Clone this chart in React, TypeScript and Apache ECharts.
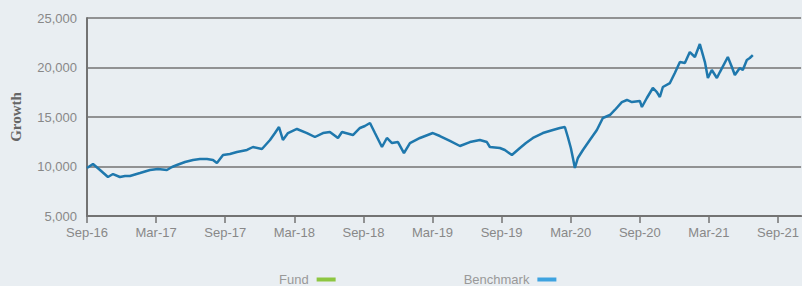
import React, { useEffect, useRef } from "react";
import * as echarts from "echarts";

// Months elapsed since Sep-2016 for each benchmark reading
const months = [
  0.0, 0.52, 1.13, 1.82, 2.26, 2.86, 3.3, 3.73, 4.6, 5.47, 6.16, 6.94, 7.38, 7.81, 8.51, 9.2, 9.81, 10.42,
  10.94, 11.28, 11.81, 12.41, 13.02, 13.89, 14.41, 15.19, 15.89, 16.32, 16.67, 17.01, 17.45, 18.23, 19.1,
  19.79, 20.49, 21.09, 21.79, 22.14, 23.09, 23.7, 24.13, 24.57, 25.0, 25.61, 26.04, 26.48, 27.0, 27.52,
  28.04, 28.91, 30.03, 30.64, 31.51, 32.38, 33.25, 34.11, 34.72, 34.98, 35.85, 36.28, 36.89, 37.59, 38.11,
  38.72, 39.58, 40.45, 41.06, 41.49, 41.75, 42.01, 42.19, 42.36, 42.62, 43.06, 43.66, 44.27, 44.79, 45.4,
  45.83, 46.44, 46.88, 47.31, 48.0, 48.18, 48.61, 49.13, 49.48, 49.74, 50.0, 50.61, 51.04, 51.48, 51.91,
  52.34, 52.78, 53.21, 53.65, 53.91, 54.25, 54.69, 54.95, 55.64, 55.99, 56.25, 56.68, 56.94, 57.29, 57.55,
  57.81,
];

const benchmark = [
  9850, 10250, 9650, 8940, 9240, 8940, 9040, 9040, 9340, 9650, 9750, 9650, 9950, 10150, 10450, 10660, 10760,
  10760, 10660, 10350, 11160, 11260, 11460, 11670, 11970, 11770, 12680, 13380, 13990, 12680, 13380, 13790,
  13380, 12980, 13380, 13480, 12880, 13480, 13180, 13890, 14090, 14390, 13380, 11970, 12880, 12370, 12470,
  11360, 12370, 12880, 13380, 13080, 12580, 12070, 12470, 12680, 12470, 11970, 11870, 11670, 11160, 11870,
  12370, 12880, 13380, 13690, 13890, 13990, 12980, 11870, 10860, 9850, 10860, 11670, 12680, 13690, 14900,
  15200, 15710, 16510, 16720, 16510, 16620, 16010, 16920, 17930, 17520, 17020, 18030, 18430, 19440, 20550,
  20450, 21560, 21060, 22370, 20550, 18940, 19750, 18940, 19540, 21060, 20050, 19240, 19950, 19750, 20760,
  20960, 21260,
];

// Fund line is not visible in the picture (only shown in the legend)
const fund: number[][] = [];

const xTickLabels = [
  "Sep-16", "Mar-17", "Sep-17", "Mar-18", "Sep-18", "Mar-19", "Sep-19", "Mar-20", "Sep-20", "Mar-21", "Sep-21",
];

const seriesNames = ["Fund", "Benchmark"];

export default function App() {
  const ref = useRef<HTMLDivElement>(null);

  useEffect(() => {
    document.body.style.margin = "0";
    const chart = echarts.init(ref.current!, null, { renderer: "svg" });
    const axisColor = "#737373";
    const labelColor = "#888888";
    const font = "Liberation Sans";
    chart.setOption({
      animation: false,
      backgroundColor: "#e9eef2",
      grid: { left: 87, right: 0, top: 18, bottom: 70 },
      legend: {
        top: 273,
        left: 279,
        padding: 0,
        align: "right",
        itemGap: 128,
        itemWidth: 19,
        itemHeight: 4,
        icon: "rect",
        textStyle: { color: "#999999", fontSize: 13, fontFamily: font, padding: [0, 3, 0, 0] },
        data: [
          { name: seriesNames[0], itemStyle: { color: "#8dc641" } },
          { name: seriesNames[1], itemStyle: { color: "#3ea3e0" } },
        ],
      },
      xAxis: {
        type: "value",
        min: 0,
        max: 62,
        interval: 6,
        axisLine: { show: true, lineStyle: { color: axisColor, width: 2 } },
        axisTick: { show: true, length: 7, lineStyle: { color: axisColor, width: 1.5 } },
        splitLine: { show: false },
        axisLabel: {
          color: labelColor,
          fontSize: 13,
          fontFamily: font,
          margin: 10,
          showMaxLabel: false,
          formatter: (v: number) => (v % 6 === 0 ? xTickLabels[v / 6] ?? "" : ""),
        },
      },
      yAxis: {
        type: "value",
        min: 5000,
        max: 25000,
        interval: 5000,
        name: "Growth",
        nameLocation: "middle",
        nameGap: 64,
        nameTextStyle: { color: "#666666", fontSize: 15, fontWeight: "bold", fontFamily: "Liberation Serif" },
        axisLine: { show: true, lineStyle: { color: axisColor, width: 2 } },
        axisTick: { show: false },
        splitLine: { show: true, lineStyle: { color: axisColor, width: 1.5 } },
        axisLabel: {
          color: labelColor,
          fontSize: 13,
          fontFamily: font,
          margin: 10,
          formatter: (v: number) => v.toLocaleString("en-US"),
        },
      },
      series: [
        {
          name: seriesNames[0],
          type: "line",
          data: fund,
          showSymbol: false,
          itemStyle: { color: "#8dc641" },
          lineStyle: { color: "#8dc641", width: 2 },
        },
        {
          name: seriesNames[1],
          type: "line",
          data: months.map((m, i) => [m, benchmark[i]]),
          showSymbol: false,
          itemStyle: { color: "#3ea3e0" },
          lineStyle: { color: "#1f78ad", width: 2.5 },
        },
      ],
    });
    return () => chart.dispose();
  }, []);

  return <div ref={ref} style={{ width: 802, height: 286 }} />;
}
